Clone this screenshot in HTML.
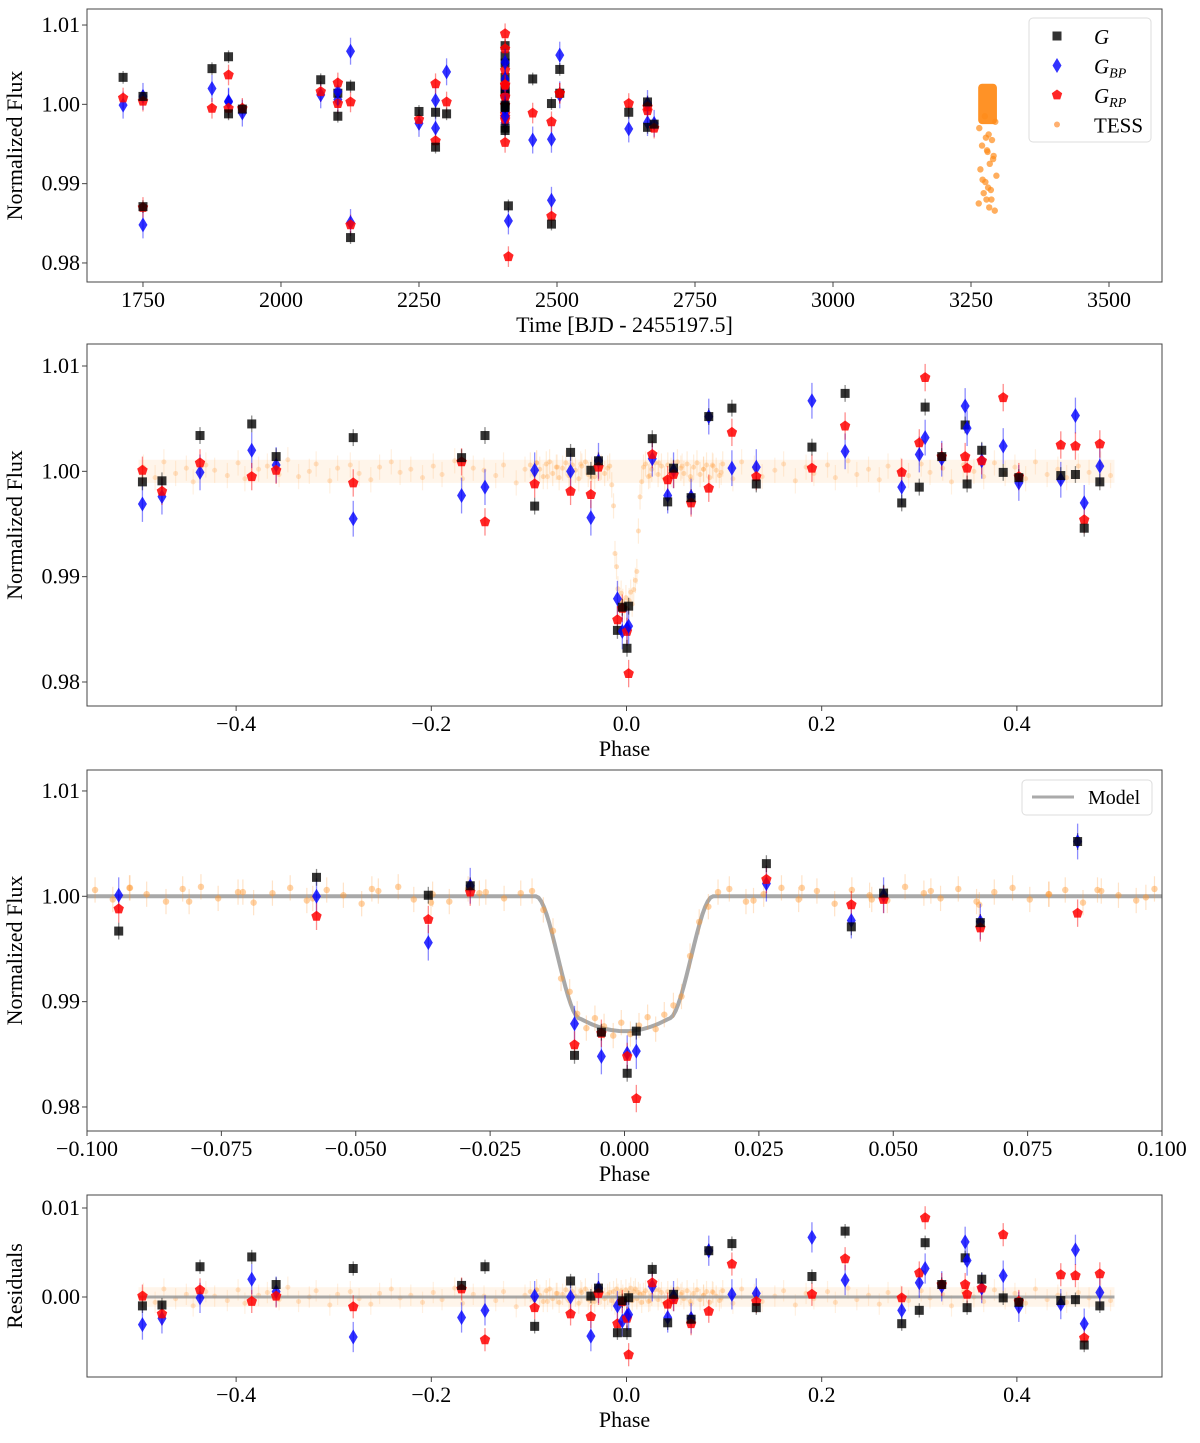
<!DOCTYPE html>
<html><head><meta charset="utf-8">
<style>
body{margin:0;background:#fff;}
svg text{font-family:"Liberation Serif","DejaVu Serif",serif;fill:#000;}
</style></head>
<body>
<svg id="chart" width="1200" height="1438" viewBox="0 0 1200 1438" xmlns="http://www.w3.org/2000/svg"></svg>
<script>
// ---- Gaia epochs ----
const epochPhase = [-0.496,-0.476,-0.437,-0.384,-0.359,-0.280,-0.169,-0.145,-0.0941,-0.0573,-0.0365,-0.0287,-0.0093,-0.0043,0.0005,0.0022,0.0264,0.0422,0.0482,0.0662,0.0843,0.108,0.133,0.19,0.224,0.282,0.300,0.306,0.323,0.347,0.349,0.364,0.386,0.402,0.445,0.46,0.469,0.485];
const epochTime = [2630,2250,1714,1875,2103,2456,2406,2406,2406,2406,2490,1750,2490,1750,2126,2412,2072,2664,2664,2676,2406,1905,1905,2126,2406,2406,2103,2406,2505,2505,2300,2406,2406,1930,2406,2406,2280,2280];
const fluxG  = [0.9990,0.9991,1.0034,1.0045,1.0014,1.0032,1.0013,1.0034,0.9967,1.0018,1.0001,1.0010,0.9849,0.9871,0.9832,0.9872,1.0031,0.9971,1.0003,0.9975,1.0052,1.0060,0.9988,1.0023,1.0074,0.9970,0.9985,1.0061,1.0014,1.0044,0.9988,1.0020,0.9999,0.9994,0.9996,0.9997,0.9946,0.9990];
const fluxBP = [0.9969,0.9976,0.9999,1.0020,1.0006,0.9955,0.9977,0.9985,1.0001,1.0000,0.9956,1.0010,0.9879,0.9848,0.9851,0.9853,1.0012,0.9977,1.0001,0.9976,1.0052,1.0003,1.0004,1.0067,1.0019,0.9985,1.0016,1.0032,1.0012,1.0062,1.0041,1.0010,1.0024,0.9989,0.9992,1.0053,0.9970,1.0005];
const fluxRP = [1.0001,0.9981,1.0008,0.9995,1.0001,0.9989,1.0009,0.9952,0.9988,0.9981,0.9978,1.0004,0.9859,0.9870,0.9848,0.9808,1.0016,0.9992,0.9997,0.9970,0.9984,1.0037,0.9995,1.0003,1.0043,0.9999,1.0027,1.0089,1.0014,1.0014,1.0003,1.0010,1.0070,0.9995,1.0025,1.0024,0.9954,1.0026];
const errG = 0.0008, errBP = 0.0017, errRP = 0.0013;
// ---- TESS (panel 1, raw time) ----
const tessTime = [3275,3294,3265,3282,3288,3270,3279,3291,3284,3267,3296,3276,3281,3273,3287,3264,3283,3293,3278,3286,3271,3290,3277,3280];
const tessFlux = [0.9985,0.9978,0.9970,0.9962,0.9955,0.9948,0.9942,0.9935,0.9925,0.9918,0.9910,0.9902,0.9895,0.9888,0.9880,0.9875,0.9870,0.9866,0.9880,0.9892,0.9905,0.9931,0.9958,0.9940];
const tessCluster = [3263,3297,0.9975,1.0026];
// ---- TESS phased (wide) residuals in ppt ----
const tessPhW = [-0.495,-0.483,-0.474,-0.462,-0.451,-0.444,-0.431,-0.422,-0.409,-0.398,-0.391,-0.377,-0.368,-0.356,-0.347,-0.336,-0.325,-0.318,-0.304,-0.296,-0.283,-0.274,-0.262,-0.253,-0.241,-0.232,-0.221,-0.209,-0.198,-0.189,-0.176,-0.168,-0.157,-0.146,-0.134,-0.126,-0.113,-0.104,-0.092,-0.081,-0.071,-0.058,-0.047,-0.036,-0.027,0.024,0.033,0.046,0.057,0.066,0.079,0.088,0.097,0.109,0.118,0.131,0.139,0.152,0.161,0.173,0.184,0.192,0.206,0.214,0.227,0.236,0.248,0.259,0.268,0.281,0.289,0.302,0.311,0.324,0.333,0.345,0.356,0.366,0.377,0.388,0.398,0.409,0.419,0.431,0.442,0.451,0.463,0.474,0.486,0.496];
const tessResW = [0.4,-0.6,0.9,-0.2,0.3,-1.0,0.6,0.1,-0.4,0.8,-0.7,0.2,0.5,-0.3,1.1,-0.5,0.0,0.7,-0.9,0.3,0.6,-0.2,-0.8,0.4,0.9,-0.1,0.2,-0.6,0.5,-0.3,1.0,-0.7,0.3,0.1,-0.4,0.6,-1.1,0.2,0.8,-0.5,0.4,-0.2,0.7,-0.6,0.3,-0.4,0.8,-0.3,0.5,-0.8,0.2,0.6,-0.1,-0.7,0.9,0.3,-0.5,0.1,0.7,-0.9,0.4,-0.2,0.6,-0.6,1.0,-0.3,0.2,-0.8,0.5,0.1,-0.4,0.7,-0.1,0.3,-1.0,0.6,0.0,-0.5,0.8,-0.2,0.4,-0.7,0.9,-0.3,0.2,-0.6,0.5,-0.1,0.7,-0.4];
// ---- TESS phased (binned, near transit) ----
const tessPh3 = [-0.0985,-0.0952,-0.0921,-0.0889,-0.0853,-0.0822,-0.0788,-0.0756,-0.0719,-0.0690,-0.0655,-0.0622,-0.0591,-0.0554,-0.0523,-0.0489,-0.0458,-0.0421,-0.0392,-0.0357,-0.0326,-0.0291,-0.0258,-0.0224,-0.0193,-0.0172,-0.0151,-0.0133,-0.0118,-0.0102,-0.0088,-0.0071,-0.0055,-0.0038,-0.0021,-0.0006,0.0011,0.0027,0.0043,0.0058,0.0074,0.0091,0.0106,0.0122,0.0139,0.0156,0.0174,0.0195,0.0226,0.0259,0.0292,0.0324,0.0358,0.0391,0.0423,0.0456,0.0489,0.0522,0.0557,0.0588,0.0621,0.0655,0.0688,0.0722,0.0754,0.0789,0.0820,0.0853,0.0887,0.0919,0.0952,0.0986];
const tessRes3 = [0.6,-0.3,0.8,0.2,-0.5,0.7,0.9,-0.2,0.4,-0.6,0.3,0.8,-0.4,0.6,0.1,-0.7,0.5,0.9,-0.3,0.2,-0.5,0.7,0.4,-0.2,0.3,0.5,-0.4,0.6,-0.8,0.9,0.3,-0.6,0.7,0.2,-0.5,0.8,-0.3,0.4,1.0,-0.4,0.6,0.9,-0.2,0.5,0.3,-0.6,0.4,0.7,-0.5,0.2,0.8,-0.3,0.5,-0.7,0.6,0.1,-0.4,0.9,0.3,-0.2,0.7,-0.5,0.4,0.8,-0.3,0.2,0.6,-0.6,0.5,0.1,-0.4,0.7];
// ---- ticks ----
const p1XTicks = [1750,2000,2250,2500,2750,3000,3250,3500];
const fluxTicks = [0.98,0.99,1.00,1.01];
const phaseTicks = [-0.4,-0.2,0.0,0.2,0.4];
const zoomTicks = [-0.100,-0.075,-0.050,-0.025,0.000,0.025,0.050,0.075,0.100];
const resTicks = [0.00,0.01];

const NS="http://www.w3.org/2000/svg";
const svg=document.getElementById('chart');
function el(tag,attrs,parent){const e=document.createElementNS(NS,tag);for(const k in attrs)e.setAttribute(k,attrs[k]);(parent||svg).appendChild(e);return e;}
function fmt(v,d){const s=Math.abs(v).toFixed(d);return (v<-1e-9?'\u2212':'')+s;}

function model(p){const x=Math.abs(p)/0.0165;if(x>=1)return 1;
  if(x<0.5)return 1-(0.0128-0.0012*Math.pow(x/0.5,2));
  const t=(x-0.5)/0.5;const s=t*t*(3-2*t);return 1-0.0116*(1-s);}

function makePanel(name,box,xd,yd){
  const g=el('g',{});
  
  
  const sx=v=>box.l+(v-xd[0])/(xd[1]-xd[0])*(box.r-box.l);
  const sy=v=>box.b-(v-yd[0])/(yd[1]-yd[0])*(box.b-box.t);
  const clipId='clip-'+name;
  const cp=el('clipPath',{id:clipId},g);el('rect',{x:box.l,y:box.t,width:box.r-box.l,height:box.b-box.t},cp);
  const plot=el('g',{'clip-path':'url(#'+clipId+')'},g);
  
  
  return {g,plot,sx,sy,box};
}
function frame(P,xticks,xdec,yticks,ydec,xlabel,ylabel){
  const {g,box,sx,sy}=P;
  const fr=el('rect',{x:box.l,y:box.t,width:box.r-box.l,height:box.b-box.t,fill:'none',stroke:'#444','stroke-width':1},g);
  
  
  const xa=el('g',{},g);
  
  
  xticks.forEach(v=>{const x=sx(v);el('line',{x1:x,x2:x,y1:box.b,y2:box.b+5,stroke:'#444'},xa);
    const t=el('text',{x:x,y:box.b+25,'font-size':22,'text-anchor':'middle'},xa);t.textContent=xdec<0?String(v):fmt(v,xdec);
    
    });
  const ya=el('g',{},g);
  
  
  yticks.forEach(v=>{const y=sy(v);el('line',{x1:box.l-5,x2:box.l,y1:y,y2:y,stroke:'#444'},ya);
    const t=el('text',{x:box.l-7,y:y+7,'font-size':22,'text-anchor':'end'},ya);t.textContent=fmt(v,ydec);
    
    });
  const xl=el('text',{x:(box.l+box.r)/2,y:box.b+50,'font-size':22,'text-anchor':'middle'},g);xl.textContent=xlabel;
  
  
  const cy=(box.t+box.b)/2;
  const yl=el('text',{x:22,y:cy,'font-size':22,'text-anchor':'middle',transform:'rotate(-90 22 '+cy+')'},g);yl.textContent=ylabel;
  
  
}
function errbar(parent,x,y1,y2,col){el('line',{x1:x,x2:x,y1:y1,y2:y2,stroke:col,'stroke-width':1.3,'stroke-opacity':0.45},parent);}
function square(parent,x,y){return el('rect',{x:x-4.5,y:y-4.5,width:9,height:9,fill:'#000','fill-opacity':0.8},parent);}
function diamond(parent,x,y){return el('polygon',{points:`${x},${y-7.5} ${x+4.5},${y} ${x},${y+7.5} ${x-4.5},${y}`,fill:'#0000ff','fill-opacity':0.8},parent);}
function pentagon(parent,x,y){let pts=[];for(let i=0;i<5;i++){const a=-Math.PI/2+i*2*Math.PI/5;pts.push((x+5.5*Math.cos(a)).toFixed(1)+','+(y+5.5*Math.sin(a)).toFixed(1));}
  return el('polygon',{points:pts.join(' '),fill:'#ff0000','fill-opacity':0.85},parent);}

function drawGaia(P,xs,resid){
  const grp=el('g',{},P.plot);
  
  
  for(let i=0;i<xs.length;i++){
    const xv=xs[i];const off=resid?model(epochPhase[i]):0;
    const x=P.sx(xv);
    const yg=fluxG[i]-off, yb=fluxBP[i]-off, yr=fluxRP[i]-off;
    errbar(grp,x,P.sy(yb-errBP),P.sy(yb+errBP),'#0000ff');
    errbar(grp,x,P.sy(yr-errRP),P.sy(yr+errRP),'#ff0000');
    errbar(grp,x,P.sy(yg-errG),P.sy(yg+errG),'#000');
    const b=diamond(grp,x,P.sy(yb));
    
    
    const r=pentagon(grp,x,P.sy(yr));
    
    
    const s=square(grp,x,P.sy(yg));
    
    
  }
}
function drawTessPhase(P,phs,res,mode,rad,op){
  const grp=el('g',{},P.plot);
  
  
  const n=Math.min(phs.length,res.length);
  for(let i=0;i<n;i++){
    const p=phs[i];const f=(mode==='res'?0:model(p))+res[i]/1000;
    const x=P.sx(p),y=P.sy(f);
    el('line',{x1:x,x2:x,y1:P.sy(f-0.0012),y2:P.sy(f+0.0012),stroke:'#ff9933','stroke-opacity':op*0.6,'stroke-width':1.2},grp);
    const c=el('circle',{cx:x,cy:y,r:rad,fill:'#ff9933','fill-opacity':op},grp);
    
    
  }
}

// ===== Panel 1 =====
const P1=makePanel('time-panel',{l:87,r:1162,t:9,b:282},[1648.6,3596],[0.97760,1.01202]);
frame(P1,p1XTicks,-1,fluxTicks,2,'Time [BJD - 2455197.5]','Normalized Flux');
(function(){
  const grp=el('g',{},P1.plot);
  
  
  const cr=el('rect',{x:P1.sx(tessCluster[0]),y:P1.sy(tessCluster[3]),width:P1.sx(tessCluster[1])-P1.sx(tessCluster[0]),height:P1.sy(tessCluster[2])-P1.sy(tessCluster[3]),rx:4,fill:'#ff8c1a','fill-opacity':0.95},grp);
  
  
  for(let i=0;i<Math.min(tessTime.length,tessFlux.length);i++){
    const c=el('circle',{cx:P1.sx(tessTime[i]),cy:P1.sy(tessFlux[i]),r:3.2,fill:'#ff8c1a','fill-opacity':0.7},grp);
    
    
  }
})();
drawGaia(P1,epochTime,false);
// legend 1
(function(){
  const lg=el('g',{});
  
  
  el('rect',{x:1029,y:18,width:122,height:124,rx:4,fill:'#fff','fill-opacity':0.85,stroke:'#ddd'},lg);
  const rows=[['G',''],['G','BP'],['G','RP'],['TESS','']];
  rows.forEach((r,i)=>{const y=36+i*29.5;
    const e=el('g',{},lg);
    
    
    if(i===0)square(e,1057,y);else if(i===1)diamond(e,1057,y);else if(i===2)pentagon(e,1057,y);else el('circle',{cx:1057,cy:y,r:3,fill:'#ffb070'},e);
    const t=el('text',{x:1094,y:y+8,'font-size':21},e);
    if(i<3){const a=el('tspan',{'font-style':'italic'},t);a.textContent='G';
      if(r[1]){const b=el('tspan',{'font-style':'italic','font-size':14,dy:4},t);b.textContent=r[1];}}
    else t.textContent='TESS';
  });
})();

// ===== Panel 2 =====
const P2=makePanel('phase-panel',{l:87,r:1162,t:344,b:706},[-0.5528,0.5487],[0.97772,1.01209]);
frame(P2,phaseTicks,1,fluxTicks,2,'Phase','Normalized Flux');
(function(){const b=el('rect',{x:P2.sx(-0.5),y:P2.sy(1.0011),width:P2.sx(0.5)-P2.sx(-0.5),height:P2.sy(0.9989)-P2.sy(1.0011),fill:'#ffddbb','fill-opacity':0.3},P2.plot);
  
  })();
drawTessPhase(P2,tessPhW,tessResW,'flux',2.5,0.25);
drawTessPhase(P2,tessPh3,tessRes3,'flux',2.5,0.3);
drawGaia(P2,epochPhase,false);

// ===== Panel 3 =====
const P3=makePanel('zoom-panel',{l:87,r:1162,t:770,b:1131},[-0.1,0.1],[0.97772,1.01199]);
frame(P3,zoomTicks,3,fluxTicks,2,'Phase','Normalized Flux');
(function(){let d='';for(let i=0;i<=400;i++){const p=-0.1+i*0.0005;d+=(i?'L':'M')+P3.sx(p).toFixed(1)+','+P3.sy(model(p)).toFixed(1);}
  const m=el('path',{d:d,fill:'none',stroke:'#999','stroke-width':4,'stroke-opacity':0.85},P3.plot);
  
  })();
drawTessPhase(P3,tessPh3,tessRes3,'flux',3.2,0.45);
drawTessPhase(P3,tessPhW,tessResW,'flux',3.2,0.45);
drawGaia(P3,epochPhase,false);
(function(){const lg=el('g',{});
  
  
  el('rect',{x:1022,y:780,width:130,height:35,rx:4,fill:'#fff',stroke:'#ddd'},lg);
  el('line',{x1:1032,x2:1074,y1:797,y2:797,stroke:'#aaa','stroke-width':3},lg);
  const t=el('text',{x:1088,y:804,'font-size':20},lg);t.textContent='Model';})();

// ===== Panel 4 =====
const P4=makePanel('residuals-panel',{l:87,r:1162,t:1195,b:1377},[-0.5528,0.5487],[-0.00899,0.01146]);
frame(P4,phaseTicks,1,resTicks,2,'Phase','Residuals');
(function(){const b=el('rect',{x:P4.sx(-0.5),y:P4.sy(0.0011),width:P4.sx(0.5)-P4.sx(-0.5),height:P4.sy(-0.0011)-P4.sy(0.0011),fill:'#ffddbb','fill-opacity':0.3},P4.plot);
  
  })();
drawTessPhase(P4,tessPhW,tessResW,'res',2.5,0.25);
drawTessPhase(P4,tessPh3,tessRes3,'res',2.5,0.3);
(function(){const z=el('line',{x1:P4.sx(-0.5),x2:P4.sx(0.5),y1:P4.sy(0),y2:P4.sy(0),stroke:'#999','stroke-width':3,'stroke-opacity':0.85},P4.plot);
  
  })();
drawGaia(P4,epochPhase,true);
</script>
</body></html>
